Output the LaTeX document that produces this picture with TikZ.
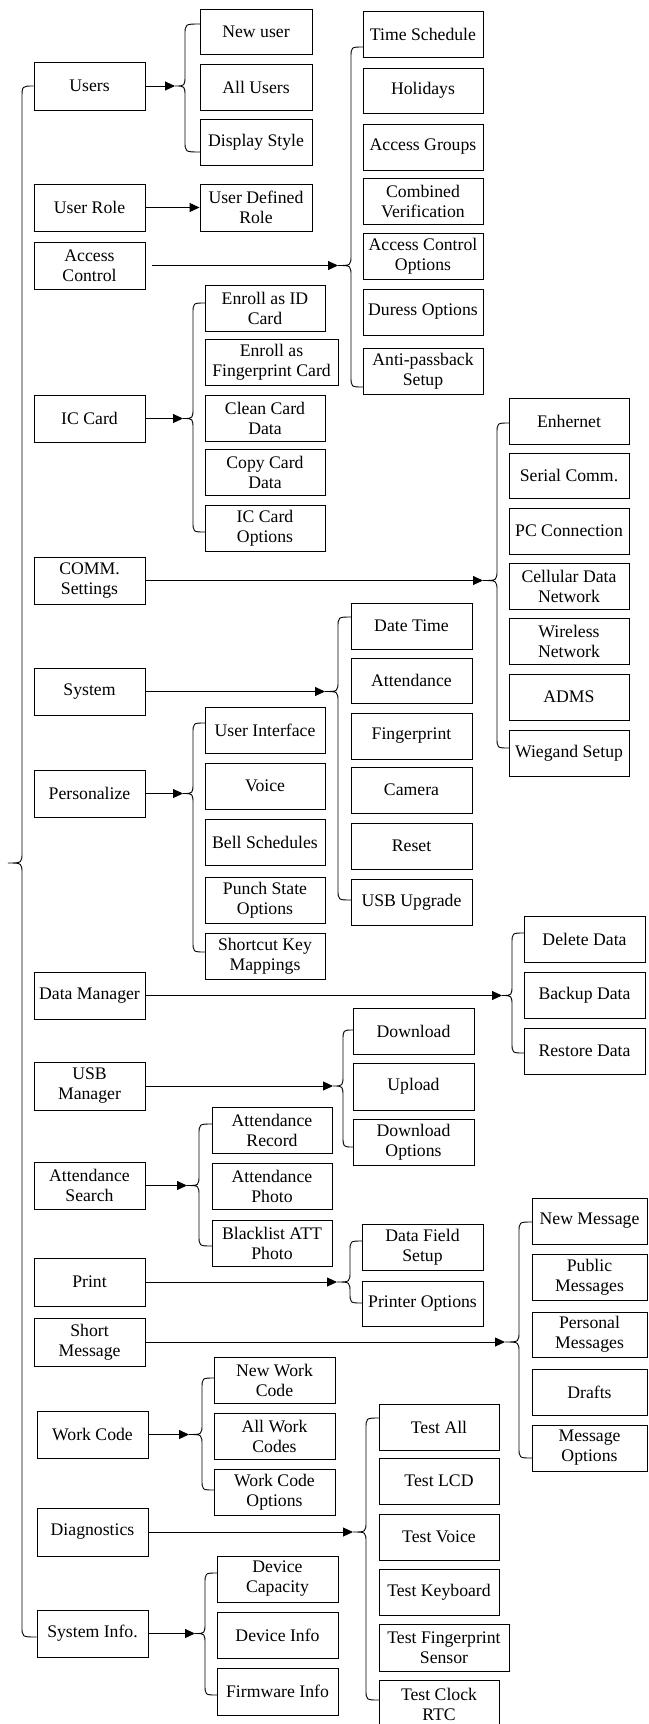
\documentclass[tikz,border=0pt]{standalone}
\usepackage{fontspec}
\setmainfont{Liberation Serif}
\usetikzlibrary{arrows.meta}
\tikzset{
  box/.style={draw=black, line width=0.9pt, inner sep=0pt, align=center,
    font=\fontsize{17.7pt}{20pt}\selectfont},
  ln/.style={line width=0.9pt},
  arr/.style={line width=0.9pt, -{Triangle[length=10pt,width=9pt]}}
}
\newcommand\bx[6]{\node[box, minimum width={(#4-#2)*1pt}, minimum height={(#5-#3)*1pt}] (#1) at ({(#2+#4)/2},{(#3+#5)/2}) {#6};}
% #1 tip name, #2 tx, #3 ty, #4 brace x, #5 top y, #6 bottom y, #7 end x
\newcommand\brc[7]{%
  \coordinate (#1) at (#2,#3);
  \draw[ln] (#7,#5) .. controls (#4,#5) .. (#4,{#5+11}) -- (#4,{#3-11})
    .. controls (#4,#3) .. (#1) .. controls (#4,#3) .. (#4,{#3+11})
    -- (#4,{#6-11}) .. controls (#4,#6) .. (#7,#6);}
\begin{document}
\begin{tikzpicture}[x=1pt,y=-1pt]
\useasboundingbox (0,0) rectangle (648,1724);
% left column
\bx{Users}{34}{62}{145}{110}{Users}
\bx{UR}{34}{184}{145}{231}{User Role}
\bx{AC}{34}{242}{145}{289}{Access\\Control}
\bx{IC}{34}{395}{145}{442}{IC Card}
\bx{COMM}{34}{557}{145}{604}{COMM.\\Settings}
\bx{Sys}{34}{668}{145}{715}{System}
\bx{Pers}{34}{770}{145}{817}{Personalize}
\bx{DM}{34}{972}{145}{1019}{Data Manager}
\bx{USB}{34}{1062}{145}{1110}{USB\\Manager}
\bx{AS}{34}{1162}{145}{1209}{Attendance\\Search}
\bx{Print}{34}{1258}{145}{1306}{Print}
\bx{SM}{34}{1318}{145}{1366}{Short\\Message}
\bx{WC}{37}{1411}{148}{1458}{Work Code}
\bx{Diag}{37}{1508}{148}{1556}{Diagnostics}
\bx{SI}{37}{1610}{148}{1657}{System Info.}
% Users
\bx{NU}{200}{9}{312}{54}{New user}
\bx{AU}{200}{64}{312}{110}{All Users}
\bx{DS}{200}{119}{312}{165}{Display Style}
\bx{UDR}{200}{184}{312}{231}{User Defined\\Role}
% Access control
\bx{TS}{363}{11}{483}{57}{Time Schedule}
\bx{Hol}{363}{68}{483}{113}{Holidays}
\bx{AG}{363}{124}{483}{170}{Access Groups}
\bx{CV}{363}{178}{483}{224}{Combined\\Verification}
\bx{ACO}{363}{233}{483}{279}{Access Control\\Options}
\bx{DO}{363}{289}{483}{335}{Duress Options}
\bx{APB}{363}{348}{483}{394}{Anti-passback\\Setup}
% IC card
\bx{EID}{205}{285}{325}{331}{Enroll as ID\\Card}
\bx{EFP}{205}{339}{338}{385}{Enroll as\\Fingerprint Card}
\bx{CCD}{205}{395}{325}{441}{Clean Card\\Data}
\bx{CpCD}{205}{449}{325}{495}{Copy Card\\Data}
\bx{ICO}{205}{505}{325}{551}{IC Card\\Options}
% COMM
\bx{Eth}{509}{398}{629}{444}{Enhernet}
\bx{Ser}{509}{453}{629}{498}{Serial Comm.}
\bx{PC}{509}{508}{629}{554}{PC Connection}
\bx{Cell}{509}{563}{629}{609}{Cellular Data\\Network}
\bx{Wire}{509}{618}{629}{664}{Wireless\\Network}
\bx{ADMS}{509}{674}{629}{720}{ADMS}
\bx{Wieg}{509}{730}{629}{776}{Wiegand Setup}
% System
\bx{DT}{351}{603}{472}{649}{Date Time}
\bx{Att}{351}{658}{472}{703}{Attendance}
\bx{FP}{351}{713}{472}{759}{Fingerprint}
\bx{Cam}{351}{767}{472}{813}{Camera}
\bx{Res}{351}{823}{472}{869}{Reset}
\bx{USBU}{351}{879}{472}{925}{USB Upgrade}
% Personalize
\bx{UI}{205}{707}{325}{753}{User Interface}
\bx{Voi}{205}{763}{325}{809}{Voice}
\bx{Bell}{205}{819}{325}{865}{Bell Schedules}
\bx{PSO}{205}{877}{325}{923}{Punch State\\Options}
\bx{SKM}{205}{933}{325}{979}{Shortcut Key\\Mappings}
% Data manager
\bx{Del}{524}{916}{645}{962}{Delete Data}
\bx{Bak}{524}{972}{645}{1018}{Backup Data}
\bx{Rst}{524}{1028}{645}{1074}{Restore Data}
% USB manager
\bx{Dl}{353}{1008}{474}{1054}{Download}
\bx{Ul}{353}{1063}{474}{1110}{Upload}
\bx{DlO}{353}{1119}{474}{1165}{Download\\Options}
% Attendance search
\bx{AR}{212}{1107}{332}{1153}{Attendance\\Record}
\bx{AP}{212}{1163}{332}{1209}{Attendance\\Photo}
\bx{BL}{212}{1220}{332}{1266}{Blacklist ATT\\Photo}
% Print
\bx{DFS}{362}{1224}{483}{1270}{Data Field\\Setup}
\bx{PO}{362}{1281}{483}{1326}{Printer Options}
% Short message
\bx{NM}{532}{1198}{647}{1244}{New Message}
\bx{PubM}{532}{1254}{647}{1300}{Public\\Messages}
\bx{PerM}{532}{1312}{647}{1357}{Personal\\Messages}
\bx{Dr}{532}{1369}{647}{1415}{Drafts}
\bx{MO}{532}{1425}{647}{1471}{Message\\Options}
% Work code
\bx{NWC}{214}{1357}{335}{1403}{New Work\\Code}
\bx{AWC}{214}{1413}{335}{1459}{All Work\\Codes}
\bx{WCO}{214}{1469}{335}{1515}{Work Code\\Options}
% Diagnostics
\bx{TA}{379}{1404}{499}{1450}{Test All}
\bx{TL}{379}{1458}{499}{1504}{Test LCD}
\bx{TV}{379}{1514}{499}{1560}{Test Voice}
\bx{TK}{379}{1569}{499}{1615}{Test Keyboard}
\bx{TFP}{379}{1624}{509}{1671}{Test Fingerprint\\Sensor}
\bx{TC}{379}{1680}{499}{1728}{Test Clock\\RTC}
% System info
\bx{DC}{217}{1556}{338}{1602}{Device\\Capacity}
\bx{DI}{217}{1612}{338}{1658}{Device Info}
\bx{FW}{217}{1668}{338}{1715}{Firmware Info}

% main brace
\draw[ln] (Users.west) .. controls (22,86) .. (22,98) -- (22,852)
  .. controls (22,863) .. (8,863) .. controls (22,863) .. (22,874)
  -- (22,1626) .. controls (22,1637) .. (SI.west |- 0,1637);

% braces
\brc{tU}{175}{86}{185}{24}{152}{200}
\brc{tAC}{338}{265.5}{351}{47}{387}{363}
\brc{tIC}{183}{418.5}{193}{303}{532}{205}
\brc{tCOMM}{483}{580.5}{497}{423}{748}{509}
\brc{tSys}{325}{691.5}{338}{617}{900}{351}
\brc{tPers}{183}{793.5}{193}{723}{952}{205}
\brc{tDM}{502}{995.5}{512}{933}{1053}{524}
\brc{tUSB}{333}{1086}{343}{1030}{1147}{353}
\brc{tAS}{187}{1185.5}{199}{1124}{1246}{212}
\brc{tPr}{337}{1282}{350}{1241}{1303}{362}
\brc{tSM}{505}{1342}{519}{1222}{1458}{532}
\brc{tWC}{189}{1434.5}{202}{1378}{1490}{214}
\brc{tDg}{353}{1532}{366}{1418}{1700}{379}
\brc{tSI}{195}{1633.5}{205}{1573}{1695}{217}

% arrows
\draw[arr] (Users) -- (tU);
\draw[arr] (UR) -- (UDR);
\draw[arr, shorten <=7pt] (AC) -- (tAC);
\draw[arr] (IC) -- (tIC);
\draw[arr] (COMM) -- (tCOMM);
\draw[arr] (Sys) -- (tSys);
\draw[arr] (Pers) -- (tPers);
\draw[arr] (DM) -- (tDM);
\draw[arr] (USB) -- (tUSB);
\draw[arr] (AS) -- (tAS);
\draw[arr] (Print) -- (tPr);
\draw[arr] (SM) -- (tSM);
\draw[arr] (WC) -- (tWC);
\draw[arr] (Diag) -- (tDg);
\draw[arr] (SI) -- (tSI);
\end{tikzpicture}
\end{document}
